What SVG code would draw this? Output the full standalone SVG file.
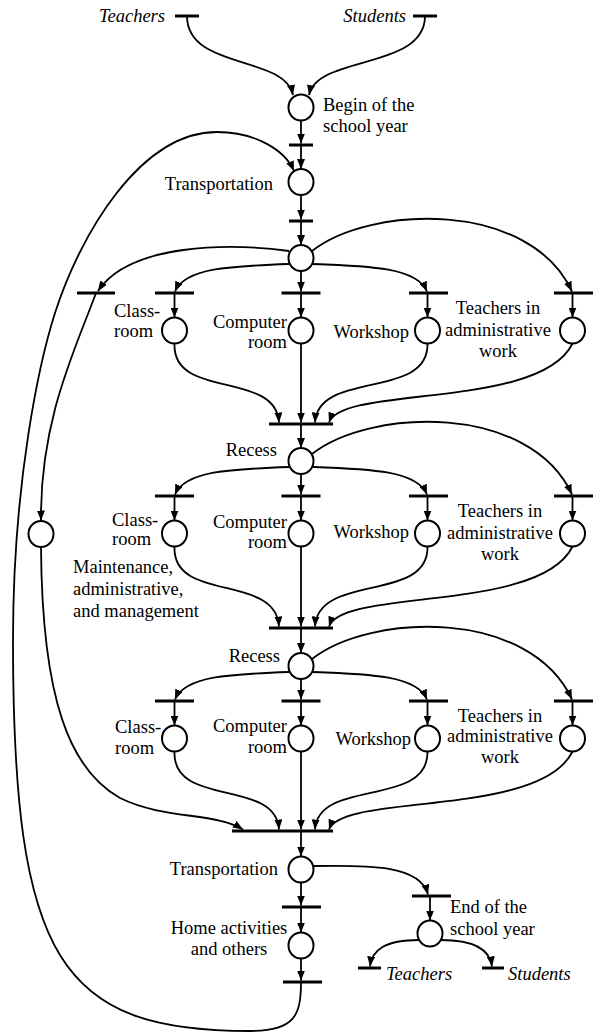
<svg xmlns="http://www.w3.org/2000/svg" width="596" height="1032" viewBox="0 0 596 1032">
<style>
.pl{fill:#fff;stroke:#000;stroke-width:2}
.tr{stroke:#000;stroke-width:3}
.cn{fill:none;stroke:#000;stroke-width:1.8;marker-end:url(#a)}
.ln{fill:none;stroke:#000;stroke-width:1.8}
text{font-family:"Liberation Serif","Times New Roman",serif;font-size:18.5px;fill:#000}
.it{font-style:italic}
.e{text-anchor:end}
.m{text-anchor:middle}
</style>
<defs>
<marker id="a" markerUnits="userSpaceOnUse" markerWidth="10" markerHeight="8" refX="10" refY="4" orient="auto"><path d="M0,0 L10,4 L0,8 z" fill="#000"/></marker>
</defs>
<rect width="596" height="1032" fill="#fff"/>
<g id="connectors">
<path class="cn" d="M187,16 C187,70 285,55 293,95"/>
<path class="cn" d="M425,16 C425,70 317,55 309,95"/>
<path class="cn" d="M301,120.5 L301,143.5"/>
<path class="cn" d="M301,145 L301,169"/>
<path class="cn" d="M301,195 L301,219.5"/>
<path class="cn" d="M301,221 L301,245"/>
<path class="cn" d="M301,982 C301,1015 295,1031 250,1031 C60,1031 13,960 13,640 C13,480 40,360 55,313 C80,235 140,132 217,132 C255,132 285,150 294,171"/>
<path class="cn" d="M289,251 C230,243 130,243 98,291"/>
<path class="cn" d="M96,293 C75,350 40,420 41,520.5"/>
<path class="cn" d="M41,547 C42,700 70,770 120,798 C165,820 215,812 243,829.5"/>
<!-- section 1 -->
<path class="cn" d="M289,264 C230,266 185,268 175,291.5"/>
<path class="cn" d="M301,271 L301,291.5"/>
<path class="cn" d="M313,264 C372,266 417,268 427,291.5"/>
<path class="cn" d="M312,251 C370,205 530,200 572,291.5"/>
<path class="cn" d="M174.5,293 L174.5,317.5"/>
<path class="cn" d="M301,293 L301,317.5"/>
<path class="cn" d="M427.5,293 L427.5,317.5"/>
<path class="cn" d="M572.5,293 L572.5,317.5"/>
<path class="cn" d="M174.5,343.5 C172,400 276,370 279,422.5"/>
<path class="cn" d="M301,343.5 L301,422.5"/>
<path class="cn" d="M427.5,343.5 C429,400 318,370 315,422.5"/>
<path class="cn" d="M572.5,343.5 C540,410 342,385 329,422.5"/>
<path class="cn" d="M301,424 L301,448"/>
<!-- section 2 -->
<path class="cn" d="M289,467 C230,469 185,471 175,494.5"/>
<path class="cn" d="M301,474 L301,494.5"/>
<path class="cn" d="M313,467 C372,469 417,471 427,494.5"/>
<path class="cn" d="M312,454 C370,408 530,403 572,494.5"/>
<path class="cn" d="M174.5,496 L174.5,520.5"/>
<path class="cn" d="M301,496 L301,520.5"/>
<path class="cn" d="M427.5,496 L427.5,520.5"/>
<path class="cn" d="M572.5,496 L572.5,520.5"/>
<path class="cn" d="M174.5,546.5 C172,603 276,573 279,626.5"/>
<path class="cn" d="M301,546.5 L301,626.5"/>
<path class="cn" d="M427.5,546.5 C429,603 318,573 315,626.5"/>
<path class="cn" d="M572.5,546.5 C540,613 342,588 329,626.5"/>
<path class="cn" d="M301,628 L301,653"/>
<!-- section 3 -->
<path class="cn" d="M289,672 C230,674 185,676 175,699.5"/>
<path class="cn" d="M301,679 L301,699.5"/>
<path class="cn" d="M313,672 C372,674 417,676 427,699.5"/>
<path class="cn" d="M312,659 C370,613 530,608 572,699.5"/>
<path class="cn" d="M174.5,701 L174.5,725.5"/>
<path class="cn" d="M301,701 L301,725.5"/>
<path class="cn" d="M427.5,701 L427.5,725.5"/>
<path class="cn" d="M572.5,701 L572.5,725.5"/>
<path class="cn" d="M174.5,751.5 C172,808 276,778 279,829.5"/>
<path class="cn" d="M301,751.5 L301,829.5"/>
<path class="cn" d="M427.5,751.5 C429,808 318,778 315,829.5"/>
<path class="cn" d="M572.5,751.5 C540,818 342,793 329,829.5"/>
<path class="cn" d="M301,831 L301,856.5"/>
<!-- bottom -->
<path class="cn" d="M301,882.5 L301,905.5"/>
<path class="cn" d="M301,907 L301,932.5"/>
<path class="cn" d="M301,958.5 L301,980.5"/>
<path class="cn" d="M314,866 C370,865 420,865 428,894.5"/>
<path class="cn" d="M430,896 L430,920.5"/>
<path class="cn" d="M419,940 C385,940 372,950 370,966.5"/>
<path class="cn" d="M441,940 C475,940 490,950 492,966.5"/>
</g>
<g id="t-teachers-in"><line class="tr" x1="175" y1="16" x2="199" y2="16"/><text class="it e" x="165" y="22">Teachers</text></g>
<g id="t-students-in"><line class="tr" x1="413" y1="16" x2="437" y2="16"/><text class="it e" x="406" y="22">Students</text></g>
<g id="p-begin"><ellipse class="pl" cx="301" cy="107.5" rx="12.5" ry="13"/><text x="323" y="110.5">Begin of the</text><text x="323" y="131.5">school year</text></g>
<g id="t-begin"><line class="tr" x1="289" y1="145" x2="313" y2="145"/></g>
<g id="p-transport1"><ellipse class="pl" cx="301" cy="182" rx="12.5" ry="13"/><text class="e" x="273" y="190">Transportation</text></g>
<g id="t-transport1"><line class="tr" x1="289" y1="221" x2="313" y2="221"/></g>
<g id="p-hub1"><ellipse class="pl" cx="301" cy="258" rx="12.5" ry="13"/></g>
<g id="t-maint"><line class="tr" x1="77" y1="293" x2="115" y2="293"/></g>
<g id="p-maint"><ellipse class="pl" cx="41" cy="534" rx="12.5" ry="13"/><text x="73" y="573">Maintenance,</text><text x="73" y="595">administrative,</text><text x="73" y="617">and management</text></g>
<!-- section 1 -->
<g id="t-s1-class"><line class="tr" x1="155" y1="293" x2="194" y2="293"/></g>
<g id="t-s1-comp"><line class="tr" x1="281.5" y1="293" x2="320.5" y2="293"/></g>
<g id="t-s1-work"><line class="tr" x1="409" y1="293" x2="448" y2="293"/></g>
<g id="t-s1-admin"><line class="tr" x1="554" y1="293" x2="593" y2="293"/></g>
<g id="p-s1-class"><ellipse class="pl" cx="174.5" cy="330.5" rx="12.5" ry="13"/><text x="114" y="317">Class-</text><text x="114" y="337">room</text></g>
<g id="p-s1-comp"><ellipse class="pl" cx="301" cy="330.5" rx="12.5" ry="13"/><text class="e" x="287" y="328">Computer</text><text class="e" x="287" y="348">room</text></g>
<g id="p-s1-work"><ellipse class="pl" cx="427.5" cy="330.5" rx="12.5" ry="13"/><text class="e" x="409" y="338">Workshop</text></g>
<g id="p-s1-admin"><ellipse class="pl" cx="572.5" cy="330.5" rx="12.5" ry="13"/><text class="m" x="498" y="314">Teachers in</text><text class="m" x="498" y="336">administrative</text><text class="m" x="498" y="357">work</text></g>
<g id="t-s1-join"><line class="tr" x1="269" y1="424" x2="333" y2="424"/></g>
<!-- section 2 -->
<g id="p-recess2"><ellipse class="pl" cx="301" cy="461" rx="12.5" ry="13"/><text class="e" x="277" y="456">Recess</text></g>
<g id="t-s2-class"><line class="tr" x1="155" y1="496" x2="194" y2="496"/></g>
<g id="t-s2-comp"><line class="tr" x1="281.5" y1="496" x2="320.5" y2="496"/></g>
<g id="t-s2-work"><line class="tr" x1="409" y1="496" x2="448" y2="496"/></g>
<g id="t-s2-admin"><line class="tr" x1="554" y1="496" x2="593" y2="496"/></g>
<g id="p-s2-class"><ellipse class="pl" cx="174.5" cy="533.5" rx="12.5" ry="13"/><text x="112" y="526">Class-</text><text x="112" y="545">room</text></g>
<g id="p-s2-comp"><ellipse class="pl" cx="301" cy="533.5" rx="12.5" ry="13"/><text class="e" x="287" y="528">Computer</text><text class="e" x="287" y="548">room</text></g>
<g id="p-s2-work"><ellipse class="pl" cx="427.5" cy="533.5" rx="12.5" ry="13"/><text class="e" x="409" y="538">Workshop</text></g>
<g id="p-s2-admin"><ellipse class="pl" cx="572.5" cy="533.5" rx="12.5" ry="13"/><text class="m" x="500" y="517">Teachers in</text><text class="m" x="500" y="539">administrative</text><text class="m" x="500" y="560">work</text></g>
<g id="t-s2-join"><line class="tr" x1="269" y1="628" x2="333" y2="628"/></g>
<!-- section 3 -->
<g id="p-recess3"><ellipse class="pl" cx="301" cy="666" rx="12.5" ry="13"/><text class="e" x="280" y="662">Recess</text></g>
<g id="t-s3-class"><line class="tr" x1="155" y1="701" x2="194" y2="701"/></g>
<g id="t-s3-comp"><line class="tr" x1="281.5" y1="701" x2="320.5" y2="701"/></g>
<g id="t-s3-work"><line class="tr" x1="409" y1="701" x2="448" y2="701"/></g>
<g id="t-s3-admin"><line class="tr" x1="554" y1="701" x2="593" y2="701"/></g>
<g id="p-s3-class"><ellipse class="pl" cx="174.5" cy="738.5" rx="12.5" ry="13"/><text x="115" y="733">Class-</text><text x="115" y="754">room</text></g>
<g id="p-s3-comp"><ellipse class="pl" cx="301" cy="738.5" rx="12.5" ry="13"/><text class="e" x="287" y="732">Computer</text><text class="e" x="287" y="753">room</text></g>
<g id="p-s3-work"><ellipse class="pl" cx="427.5" cy="738.5" rx="12.5" ry="13"/><text class="e" x="411" y="745">Workshop</text></g>
<g id="p-s3-admin"><ellipse class="pl" cx="572.5" cy="738.5" rx="12.5" ry="13"/><text class="m" x="500" y="722">Teachers in</text><text class="m" x="500" y="742">administrative</text><text class="m" x="500" y="763">work</text></g>
<g id="t-s3-join"><line class="tr" x1="232" y1="831" x2="333" y2="831"/></g>
<!-- bottom -->
<g id="p-transport2"><ellipse class="pl" cx="301" cy="869.5" rx="12.5" ry="13"/><text class="e" x="278" y="875">Transportation</text></g>
<g id="t-home"><line class="tr" x1="282" y1="907" x2="321" y2="907"/></g>
<g id="p-home"><ellipse class="pl" cx="301" cy="945.5" rx="12.5" ry="13"/><text class="m" x="229" y="934">Home activities</text><text class="m" x="229" y="955">and others</text></g>
<g id="t-home-out"><line class="tr" x1="283" y1="982" x2="322" y2="982"/></g>
<g id="t-end"><line class="tr" x1="412" y1="896" x2="451" y2="896"/></g>
<g id="p-end"><ellipse class="pl" cx="430" cy="933.5" rx="12.5" ry="13"/><text x="450" y="913">End of the</text><text x="450" y="935">school year</text></g>
<g id="t-teachers-out"><line class="tr" x1="358" y1="968" x2="381" y2="968"/><text class="it" x="386" y="980">Teachers</text></g>
<g id="t-students-out"><line class="tr" x1="482" y1="968" x2="504" y2="968"/><text class="it" x="508" y="980">Students</text></g>
</svg>
